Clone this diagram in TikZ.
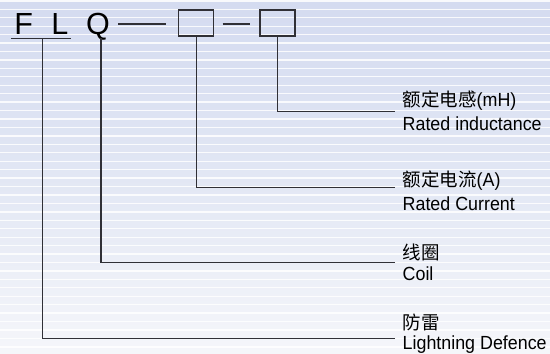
\documentclass[tikz,border=0pt]{standalone}
\usepackage{fontspec}
\setmainfont{Liberation Sans}
\newfontfamily\narrowsans[FakeStretch=0.94]{Liberation Sans}
\newfontfamily\cjk{Noto Sans CJK SC}
\definecolor{bgtop}{RGB}{212,219,240}
\definecolor{bgmid}{RGB}{226,231,244}
\definecolor{bgbot}{RGB}{245,246,250}
\definecolor{ink}{RGB}{48,48,54}
\tikzset{
  bigletter/.style={inner sep=0pt, anchor=base west, font=\fontsize{30.5}{30.5}\selectfont},
  codebox/.style={draw=ink, line width=1.4pt, minimum width=35pt, minimum height=26pt, inner sep=0pt},
  conn/.style={draw=ink, line width=1.4pt},
  cnlabel/.style={inner sep=0pt, anchor=base west, font=\cjk\fontsize{18.5}{18.5}\selectfont},
  enlabel/.style={inner sep=0pt, anchor=base west, font=\narrowsans\fontsize{19}{19}\selectfont},
}
\begin{document}
\begin{tikzpicture}[x=1pt,y=-1pt]
\useasboundingbox (0,0) rectangle (550,354);
% background
\shade[top color=bgtop, bottom color=bgbot, middle color=bgmid] (0,0) rectangle (550,354);
\foreach \i in {0,...,42}{
  \fill[white, opacity=0.85] (0,{0.2+8.44*\i}) rectangle (550,{1.5+8.44*\i});
}
% code letters
\node[bigletter] (F) at (14.2,34.3) {F};
\node[bigletter] (L) at (51.1,34.3) {L};
\node[bigletter] (Q) at (85.8,34.3) {Q};
\node[codebox] (b1) at (196.2,23) {};
\node[codebox] (b2) at (277.6,23) {};
% underline and dashes
\coordinate (u1) at (11,38.7);
\coordinate (u2) at (70.7,38.7);
\coordinate (fl) at (42.3,38.7);
\coordinate (qb) at (101,38.3);
\coordinate (d1a) at (118,24);
\coordinate (d1b) at (165.7,24);
\coordinate (d2a) at (222.7,24);
\coordinate (d2b) at (250,24);
\draw[conn] (u1) -- (u2);
\draw[conn] (d1a) -- (d1b);
\draw[conn] (d2a) -- (d2b);
% connector ends
\coordinate (r1) at (395,111.7);
\coordinate (r2) at (395,187.3);
\coordinate (r3) at (395,262.5);
\coordinate (r4) at (395,338.5);
\draw[conn] (b2.south) |- (r1);
\draw[conn] (b1.south) |- (r2);
\draw[conn] (qb) |- (r3);
\draw[conn] (fl) |- (r4);
% labels
\node[cnlabel] (c1) at (402.5,106.5) {额定电感{\narrowsans\fontsize{19}{19}\selectfont(mH)}};
\node[enlabel] (e1) at (402.5,130) {Rated inductance};
\node[cnlabel] (c2) at (402.5,186) {额定电流{\narrowsans\fontsize{19}{19}\selectfont(A)}};
\node[enlabel] (e2) at (402.5,210) {Rated Current};
\node[cnlabel] (c3) at (402.5,259) {线圈};
\node[enlabel] (e3) at (402.5,280.7) {Coil};
\node[cnlabel] (c4) at (402.5,329) {防雷};
\node[enlabel] (e4) at (402.5,349.3) {Lightning Defence};
\end{tikzpicture}
\end{document}
